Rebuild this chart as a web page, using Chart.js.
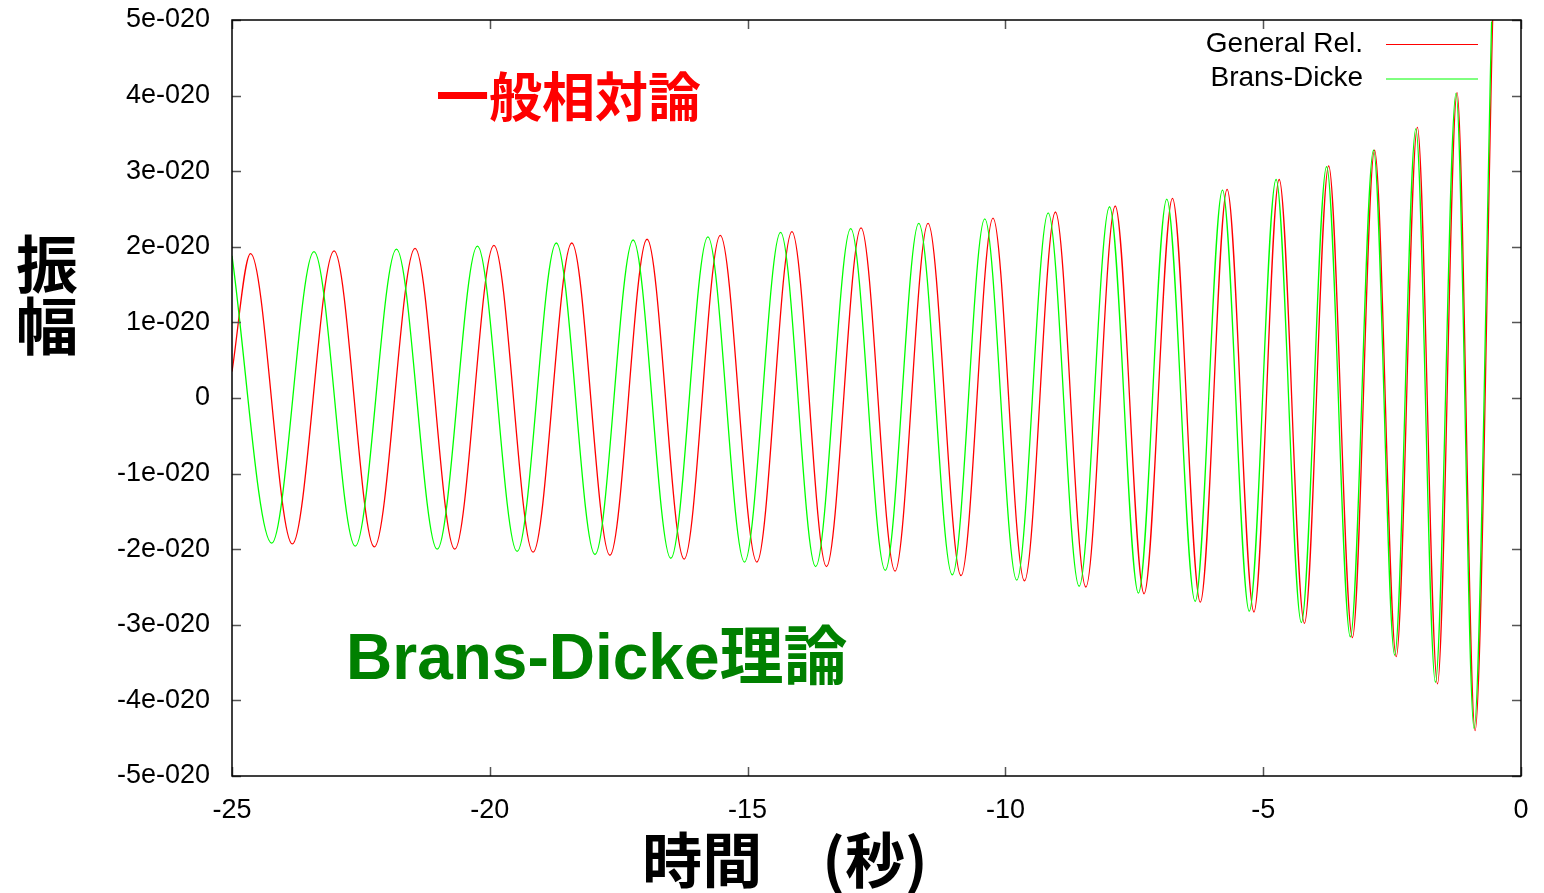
<!DOCTYPE html>
<html>
<head>
<meta charset="utf-8">
<script src="https://cdn.jsdelivr.net/npm/chart.js@4"></script>
<style>
  html, body { margin: 0; padding: 0; background: #fff; }
  #wrap { width: 1544px; height: 893px; }
</style>
</head>
<body>
<div id="wrap"><canvas id="waveChart" width="1544" height="893"></canvas></div>
<script>
// amplitudes in units of 1e-20
const timeRel = [-25, -24.64, -23.83, -23.02, -22.24, -21.45, -20.68, -19.92, -19.16, -18.41, -17.67,
  -16.95, -16.23, -15.53, -14.82, -14.14, -13.47, -12.80, -12.14, -11.50, -10.86,
  -10.24, -9.63, -9.03, -8.44, -7.87, -7.31, -6.76, -6.22, -5.70, -5.18,
  -4.69, -4.20, -3.73, -3.27, -2.84, -2.42, -2.01, -1.62, -1.24, -0.89, -0.55];
const ampRel = [0.35, 1.91, -1.93, 1.945, -1.97, 1.98, -2.0, 2.02, -2.04, 2.05, -2.08,
  2.10, -2.13, 2.15, -2.17, 2.20, -2.23, 2.25, -2.29, 2.31, -2.35,
  2.38, -2.42, 2.46, -2.50, 2.54, -2.59, 2.64, -2.70, 2.76, -2.83,
  2.89, -2.98, 3.07, -3.17, 3.28, -3.42, 3.58, -3.78, 4.04, -4.40, 5.0];

const timeBD = [-25, -24.23, -23.41, -22.61, -21.81, -21.02, -20.24, -19.47, -18.71, -17.96, -17.22,
  -16.49, -15.77, -15.06, -14.36, -13.68, -13.00, -12.33, -11.68, -11.03, -10.40,
  -9.78, -9.17, -8.57, -7.98, -7.42, -6.87, -6.32, -5.79, -5.27, -4.75,
  -4.26, -3.77, -3.31, -2.86, -2.45, -2.04, -1.66, -1.26, -0.91, -0.57];
const ampBD = [1.88, -1.92, 1.935, -1.96, 1.97, -2.0, 2.01, -2.03, 2.05, -2.07, 2.09,
  -2.12, 2.13, -2.17, 2.19, -2.23, 2.24, -2.28, 2.31, -2.34, 2.37,
  -2.41, 2.45, -2.49, 2.53, -2.58, 2.63, -2.69, 2.75, -2.82, 2.89,
  -2.97, 3.06, -3.16, 3.28, -3.40, 3.56, -3.76, 4.03, -4.37, 4.98];

const yTickLabels = ['-5e-020', '-4e-020', '-3e-020', '-2e-020', '-1e-020', '0',
  '1e-020', '2e-020', '3e-020', '4e-020', '5e-020'];
const seriesNames = ['General Rel.', 'Brans-Dicke'];

const toPoints = (xs, ys) => xs.map((x, i) => ({ x: x, y: ys[i] }));

// gnuplot-like frame, inward ticks, legend and labels
const decorations = {
    id: 'decorations',
    afterDatasetsDraw(chart) {
        const ctx = chart.ctx;
        const a = chart.chartArea;
        const xs = chart.scales.x, ys = chart.scales.y;
        ctx.save();
        // tick marks (inside, mirrored)
        ctx.strokeStyle = '#555';
        ctx.lineWidth = 1.5;
        ctx.beginPath();
        xs.ticks.forEach(t => {
            const px = Math.round(xs.getPixelForValue(t.value)) + 0.5;
            ctx.moveTo(px, a.bottom); ctx.lineTo(px, a.bottom - 9);
            ctx.moveTo(px, a.top); ctx.lineTo(px, a.top + 9);
        });
        ys.ticks.forEach(t => {
            const py = Math.round(ys.getPixelForValue(t.value)) + 0.5;
            ctx.moveTo(a.left, py); ctx.lineTo(a.left + 9, py);
            ctx.moveTo(a.right, py); ctx.lineTo(a.right - 9, py);
        });
        ctx.stroke();
        // frame
        ctx.strokeStyle = '#000';
        ctx.lineWidth = 1.5;
        ctx.strokeRect(a.left, a.top, a.right - a.left, a.bottom - a.top);

        // legend
        ctx.font = '28px "Liberation Sans"';
        ctx.fillStyle = '#000';
        ctx.textAlign = 'right';
        ctx.textBaseline = 'middle';
        const legendColors = ['#ff0000', '#00ff00'];
        seriesNames.forEach((name, i) => {
            const y = 44 + i * 34.5;
            ctx.fillText(name, 1363, y);
            ctx.strokeStyle = legendColors[i];
            ctx.lineWidth = 1;
            ctx.beginPath();
            ctx.moveTo(1386, y + 0.5); ctx.lineTo(1478, y + 0.5);
            ctx.stroke();
        });

        // annotations
        ctx.textAlign = 'left';
        ctx.textBaseline = 'alphabetic';
        ctx.fillStyle = '#ff0000';
        ctx.font = 'bold 53px "Noto Sans CJK JP"';
        ctx.fillText('一般相対論', 436, 117);
        ctx.fillStyle = '#008000';
        ctx.font = 'bold 64px "Liberation Sans", "Noto Sans CJK JP"';
        ctx.fillText('Brans-Dicke理論', 346, 679);

        // axis titles
        ctx.fillStyle = '#000';
        ctx.textAlign = 'center';
        ctx.textBaseline = 'middle';
        ctx.font = 'bold 62px "Noto Sans CJK JP"';
        ctx.fillText('振', 47, 264);
        ctx.fillText('幅', 47, 326);
        ctx.font = 'bold 60px "Noto Sans CJK JP"';
        ctx.fillText('時間　(秒)', 785, 860);
        ctx.restore();
    }
};

new Chart(document.getElementById('waveChart'), {
    type: 'line',
    data: {
        datasets: [{
            label: seriesNames[0],
            data: toPoints(timeRel, ampRel),
            borderColor: '#ff0000',
            borderWidth: 1.3,
            pointRadius: 0,
            cubicInterpolationMode: 'monotone',
            order: 1
        }, {
            label: seriesNames[1],
            data: toPoints(timeBD, ampBD),
            borderColor: '#00ff00',
            borderWidth: 1.3,
            pointRadius: 0,
            cubicInterpolationMode: 'monotone',
            order: 0
        }]
    },
    options: {
        responsive: false,
        animation: false,
        layout: { padding: { top: 20, right: 23, left: 0, bottom: 0 } },
        plugins: {
            legend: { display: false },
            tooltip: { enabled: false }
        },
        scales: {
            x: {
                type: 'linear',
                min: -25,
                max: 0,
                grid: { display: false, drawTicks: false },
                border: { display: false },
                ticks: {
                    stepSize: 5,
                    padding: 18,
                    color: '#000',
                    font: { family: 'Liberation Sans', size: 27 },
                    maxRotation: 0,
                    callback: v => String(v)
                },
                afterFit: s => { s.height = 117; s.paddingLeft = 0; s.paddingRight = 0; }
            },
            y: {
                type: 'linear',
                min: -5,
                max: 5,
                grid: { display: false, drawTicks: false },
                border: { display: false },
                ticks: {
                    stepSize: 1,
                    padding: 22,
                    color: '#000',
                    font: { family: 'Liberation Sans', size: 27 },
                    callback: v => yTickLabels[Math.round(v) + 5]
                },
                afterFit: s => { s.width = 232; s.paddingTop = 0; s.paddingBottom = 0; }
            }
        }
    },
    plugins: [decorations]
});
</script>
</body>
</html>
